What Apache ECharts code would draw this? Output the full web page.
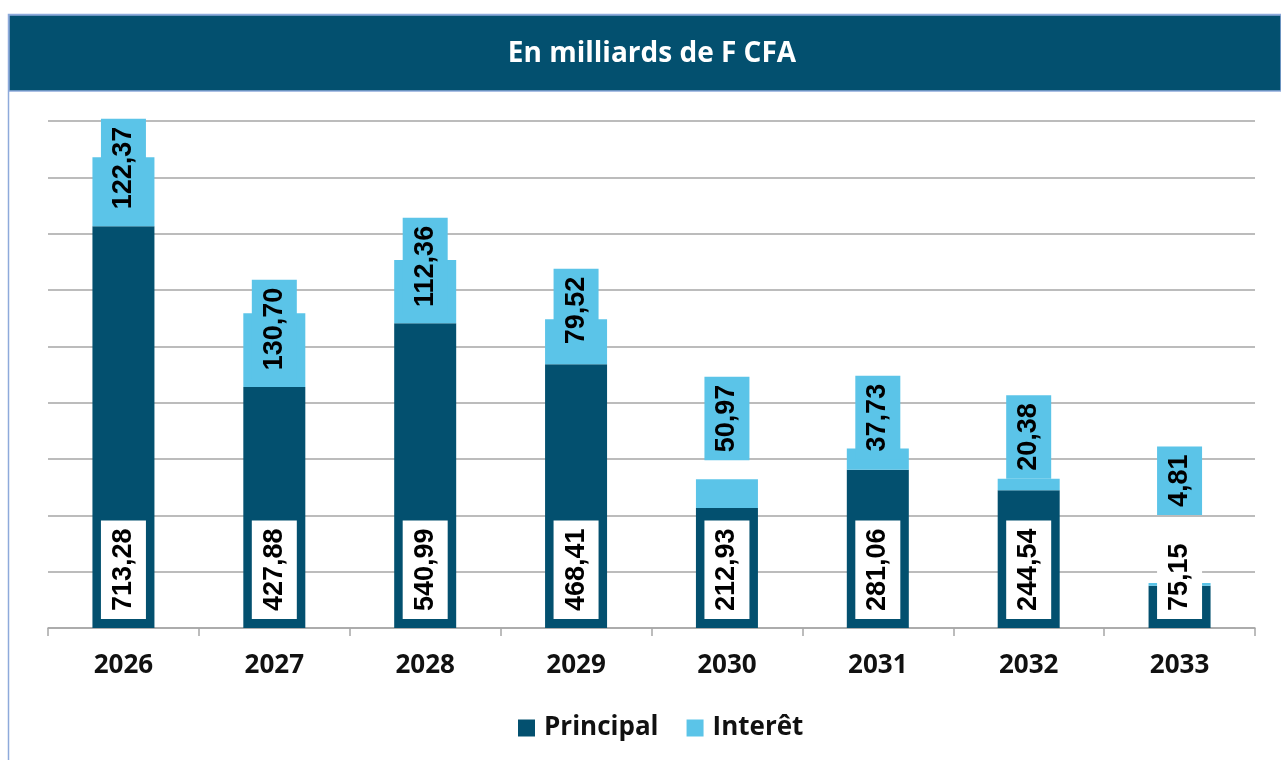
<!DOCTYPE html>
<html>
<head>
<meta charset="utf-8">
<title>En milliards de F CFA</title>
<script src="https://cdn.jsdelivr.net/npm/echarts@6/dist/echarts.min.js"></script>
<style>
  html, body { margin: 0; padding: 0; background: #fff; }
  #chart { width: 1281px; height: 760px; }
</style>
</head>
<body>
<div id="chart"></div>
<script>
// données (en milliards de F CFA)
const annees = ['2026', '2027', '2028', '2029', '2030', '2031', '2032', '2033']
const principal = [713.28, 427.88, 540.99, 468.41, 212.93, 281.06, 244.54, 75.15]
const interet = [122.37, 130.70, 112.36, 79.52, 50.97, 37.73, 20.38, 4.81]

// décalage des étiquettes "Interêt" par rapport au haut de la barre (px)
const decalageInteret = [-60, -65, -55, -33, 19, -11, 0, 68]

const fmt = v => v.toFixed(2).replace('.', ',')

const DARK = '#03506f'
const LIGHT = '#5bc4e8'

const labelBase = {
  show: true,
  rotate: 90,
  align: 'left',
  verticalAlign: 'middle',
  fontFamily: 'Liberation Sans',
  fontWeight: 'bold',
  fontSize: 27,
  lineHeight: 27,
  color: '#000',
  padding: [9, 8, 9, 8],
  formatter: p => fmt(p.value)
}

const chart = echarts.init(document.getElementById('chart'))

const option = {
  animation: false,
  graphic: [
    {
      type: 'rect',
      shape: { x: 8.5, y: 14.5, width: 1290, height: 760 },
      style: { fill: 'none', stroke: '#8eaadb', lineWidth: 1.5 },
      silent: true
    },
    {
      type: 'rect',
      shape: { x: 9, y: 15, width: 1272, height: 76 },
      style: { fill: DARK, stroke: '#8eaadb', lineWidth: 1.5 },
      silent: true
    },
    {
      type: 'text',
      x: 652,
      y: 54,
      style: {
        text: 'En milliards de F CFA',
        fill: '#fff',
        font: 'bold 28px "Open Sans"',
        align: 'center',
        verticalAlign: 'middle'
      },
      silent: true
    }
  ],
  grid: { left: 48, right: 26, top: 121, bottom: 132 },
  legend: {
    bottom: 14,
    left: 513,
    itemWidth: 17,
    itemHeight: 17,
    itemGap: 28,
    icon: 'rect',
    textStyle: {
      fontFamily: 'Open Sans',
      fontWeight: 'bold',
      fontSize: 26,
      color: '#111',
      padding: [0, 0, 0, 4]
    },
    data: ['Principal', 'Interêt']
  },
  xAxis: {
    type: 'category',
    data: annees,
    axisLine: { lineStyle: { color: '#a6a6a6', width: 1.5 } },
    axisTick: { show: true, length: 8, lineStyle: { color: '#a6a6a6', width: 1.5 } },
    axisLabel: {
      margin: 25,
      fontFamily: 'Open Sans',
      fontWeight: 'bold',
      fontSize: 26,
      color: '#111'
    }
  },
  yAxis: {
    type: 'value',
    min: 0,
    max: 900,
    interval: 100,
    axisLabel: { show: false },
    axisLine: { show: false },
    axisTick: { show: false },
    splitLine: { lineStyle: { color: '#a6a6a6', width: 1.5 } }
  },
  series: [
    {
      name: 'Principal',
      type: 'bar',
      stack: 'total',
      barWidth: 62,
      itemStyle: { color: DARK },
      data: principal,
      label: Object.assign({}, labelBase, {
        position: 'insideBottom',
        distance: 9,
        backgroundColor: '#fff'
      })
    },
    {
      name: 'Interêt',
      type: 'bar',
      stack: 'total',
      barWidth: 62,
      itemStyle: { color: LIGHT },
      data: interet.map((v, i) => ({
        value: v,
        label: { distance: decalageInteret[i] }
      })),
      label: Object.assign({}, labelBase, {
        position: 'top',
        backgroundColor: LIGHT
      })
    }
  ]
}

chart.setOption(option)
</script>
</body>
</html>
